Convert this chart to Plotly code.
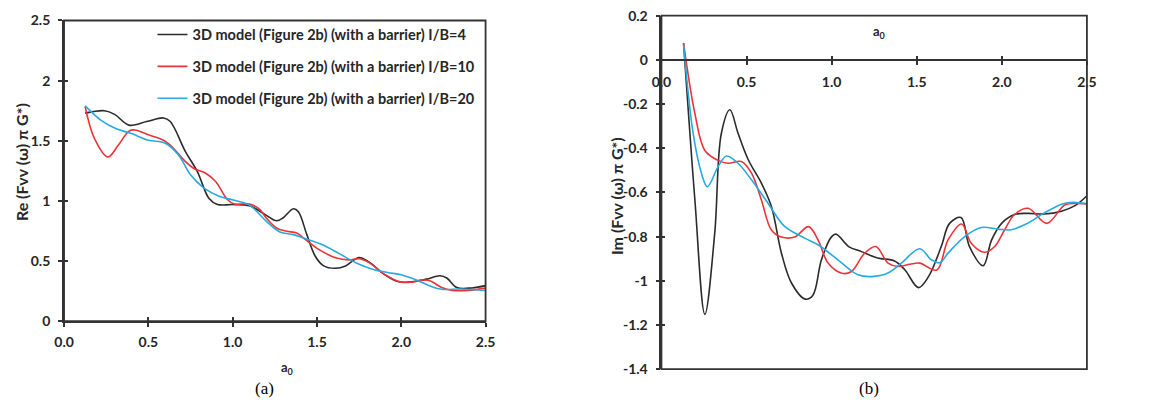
import plotly.graph_objects as go

W, H = 1149, 403

# ---------------- data ----------------
series_names = [
    "3D model (Figure 2b) (with a barrier) I/B=4",
    "3D model (Figure 2b) (with a barrier) I/B=10",
    "3D model (Figure 2b) (with a barrier) I/B=20",
]
series_colors = ["#2b2b2b", "#ee3338", "#27aae1"]

# (a) Real part
re_a_ib4 = [0.125, 0.24, 0.3, 0.385, 0.49, 0.59, 0.63, 0.72, 0.79, 0.86, 0.91, 1.0, 1.1, 1.2, 1.26, 1.3,
            1.36, 1.39, 1.44, 1.49, 1.54, 1.61, 1.67, 1.75, 1.81, 1.9, 1.98, 2.08, 2.15, 2.23, 2.27, 2.33, 2.42, 2.5]
re_v_ib4 = [1.73, 1.75, 1.72, 1.63, 1.66, 1.69, 1.66, 1.41, 1.245, 1.02, 0.97, 0.97, 0.96, 0.88, 0.835, 0.86,
            0.935, 0.91, 0.72, 0.54, 0.46, 0.44, 0.46, 0.53, 0.49, 0.39, 0.33, 0.33, 0.35, 0.378, 0.36, 0.28, 0.277, 0.296]

re_a_ib10 = [0.125, 0.18, 0.26, 0.32, 0.385, 0.42, 0.5, 0.59, 0.64, 0.72, 0.77, 0.84, 0.9, 0.97, 1.01, 1.1,
             1.16, 1.2, 1.26, 1.32, 1.38, 1.43, 1.51, 1.61, 1.69, 1.75, 1.81, 1.9, 2.0, 2.06, 2.12, 2.17,
             2.24, 2.3, 2.4, 2.5]
re_v_ib10 = [1.785, 1.52, 1.365, 1.46, 1.58, 1.59, 1.55, 1.505, 1.45, 1.327, 1.27, 1.23, 1.16, 1.01, 0.975, 0.975,
             0.93, 0.857, 0.775, 0.748, 0.734, 0.68, 0.597, 0.528, 0.51, 0.52, 0.487, 0.39, 0.325, 0.325, 0.342, 0.337,
             0.28, 0.257, 0.257, 0.275]

re_a_ib20 = [0.125, 0.22, 0.31, 0.4, 0.5, 0.6, 0.68, 0.75, 0.83, 0.92, 1.01, 1.1, 1.2, 1.28, 1.36, 1.43,
             1.53, 1.63, 1.73, 1.83, 1.92, 2.0, 2.1, 2.18, 2.24, 2.36, 2.5]
re_v_ib20 = [1.79, 1.67, 1.6, 1.56, 1.505, 1.48, 1.38, 1.217, 1.107, 1.04, 1.005, 0.965, 0.83, 0.742, 0.72, 0.687,
             0.638, 0.564, 0.487, 0.433, 0.405, 0.386, 0.337, 0.288, 0.266, 0.268, 0.255]

# (b) Imaginary part
im_a_ib4 = [0.13, 0.196, 0.255, 0.313, 0.352, 0.402, 0.45, 0.51, 0.587, 0.646, 0.705, 0.764, 0.845, 0.89, 0.94,
            1.0, 1.027, 1.1, 1.175, 1.27, 1.37, 1.43, 1.51, 1.57, 1.644, 1.693, 1.76, 1.81, 1.89, 1.94, 2.0,
            2.075, 2.153, 2.25, 2.35, 2.43, 2.5]
im_v_ib4 = [0.075, -0.63, -1.152, -0.784, -0.332, -0.226, -0.332, -0.452, -0.558, -0.664, -0.875, -1.01, -1.083,
            -1.065, -0.905, -0.8, -0.789, -0.845, -0.868, -0.897, -0.91, -0.95, -1.031, -0.98, -0.845, -0.74, -0.714,
            -0.845, -0.932, -0.815, -0.739, -0.70, -0.695, -0.698, -0.685, -0.66, -0.615]

im_a_ib10 = [0.13, 0.196, 0.255, 0.333, 0.392, 0.47, 0.529, 0.587, 0.646, 0.705, 0.783, 0.864, 0.92, 0.979, 1.06,
             1.116, 1.194, 1.26, 1.331, 1.39, 1.46, 1.518, 1.618, 1.684, 1.764, 1.82, 1.9, 1.958, 2.016, 2.075,
             2.155, 2.264, 2.37, 2.445, 2.5]
im_v_ib10 = [0.075, -0.241, -0.41, -0.455, -0.468, -0.46, -0.513, -0.634, -0.77, -0.802, -0.802, -0.755, -0.815,
             -0.92, -0.966, -0.958, -0.875, -0.845, -0.92, -0.935, -0.925, -0.92, -0.951, -0.815, -0.743, -0.83,
             -0.871, -0.845, -0.77, -0.70, -0.672, -0.74, -0.657, -0.65, -0.652]

im_a_ib20 = [0.13, 0.186, 0.235, 0.27, 0.333, 0.382, 0.45, 0.529, 0.626, 0.724, 0.842, 0.92, 1.037, 1.155, 1.233,
             1.331, 1.41, 1.518, 1.586, 1.636, 1.684, 1.782, 1.88, 1.978, 2.055, 2.153, 2.245, 2.355, 2.42, 2.5]
im_v_ib20 = [0.068, -0.332, -0.513, -0.574, -0.483, -0.435, -0.468, -0.543, -0.649, -0.754, -0.807, -0.837, -0.905,
             -0.973, -0.981, -0.965, -0.92, -0.855, -0.905, -0.918, -0.875, -0.8, -0.759, -0.766, -0.769, -0.739,
             -0.695, -0.652, -0.645, -0.652]

x_ticks = [0.0, 0.5, 1.0, 1.5, 2.0, 2.5]
x_ticktext = ["0.0", "0.5", "1.0", "1.5", "2.0", "2.5"]
re_ticks = [0, 0.5, 1, 1.5, 2, 2.5]
re_ticktext = ["0", "0.5", "1", "1.5", "2", "2.5"]
im_ticks = [0.2, 0, -0.2, -0.4, -0.6, -0.8, -1.0, -1.2, -1.4]
im_ticktext = ["0.2", "0", "-0.2", "-0.4", "-0.6", "-0.8", "-1", "-1.2", "-1.4"]

# ---------------- layout helpers ----------------
def px(x):
    return x / W

def py(y):
    return 1 - y / H

AX = "#333333"
TXT = "#262626"
FONT = "Lato"

xa_dom = [px(55), px(484)]
ya_dom = [py(326), py(12)]
xb_dom = [px(663), px(1096)]
yb_dom = [py(376), py(7)]
xb_pos = yb_dom[0] + (0 - (-1.4)) / (0.2 - (-1.4)) * (yb_dom[1] - yb_dom[0])

fig = go.Figure()

re_sets = [(re_a_ib4, re_v_ib4), (re_a_ib10, re_v_ib10), (re_a_ib20, re_v_ib20)]
im_sets = [(im_a_ib4, im_v_ib4), (im_a_ib10, im_v_ib10), (im_a_ib20, im_v_ib20)]

for i, (xs, ys) in enumerate(re_sets):
    fig.add_trace(go.Scatter(x=xs, y=ys, mode="lines", name=series_names[i],
                             line=dict(color=series_colors[i], width=1.6, shape="spline", smoothing=1.0),
                             xaxis="x", yaxis="y", legendgroup=f"g{i}", showlegend=True))
for i, (xs, ys) in enumerate(im_sets):
    fig.add_trace(go.Scatter(x=xs, y=ys, mode="lines", name=series_names[i],
                             line=dict(color=series_colors[i], width=1.6, shape="spline", smoothing=1.0),
                             xaxis="x2", yaxis="y2", legendgroup=f"g{i}", showlegend=False))

# invisible traces to activate overlay axes used for crossing tick marks
fig.add_trace(go.Scatter(x=[None], y=[None], xaxis="x3", yaxis="y3", showlegend=False, hoverinfo="skip"))
fig.add_trace(go.Scatter(x=[None], y=[None], xaxis="x4", yaxis="y4", showlegend=False, hoverinfo="skip"))

tickfont = dict(family=FONT, size=14, color=TXT, weight="bold")
common = dict(showgrid=False, zeroline=False, linecolor=AX, linewidth=1.8, tickcolor=AX,
              tickwidth=1.5, ticklen=4, ticks="outside", tickfont=tickfont, showline=True)
inside = dict(showgrid=False, zeroline=False, showline=False, ticks="inside", ticklen=4,
              tickcolor=AX, tickwidth=1.5, showticklabels=False)

fig.update_layout(
    width=W, height=H, autosize=False,
    margin=dict(l=0, r=0, t=0, b=0),
    paper_bgcolor="white", plot_bgcolor="white",
    showlegend=True,
    legend=dict(x=px(145), y=py(10), xanchor="left", yanchor="top",
                font=dict(family=FONT, size=14.5, color=TXT, weight="bold"),
                bgcolor="rgba(0,0,0,0)", tracegroupgap=10, itemwidth=30),
    xaxis=dict(domain=xa_dom, range=[0, 2.5], anchor="y", tickvals=x_ticks, ticktext=x_ticktext,
               ticklabelstandoff=3, **common),
    yaxis=dict(domain=ya_dom, range=[0, 2.5], anchor="x", tickvals=re_ticks, ticktext=re_ticktext,
               ticklabelstandoff=5, **common),
    xaxis3=dict(domain=xa_dom, range=[0, 2.5], anchor="y", overlaying="x", tickvals=x_ticks, **inside),
    yaxis3=dict(domain=ya_dom, range=[0, 2.5], anchor="x", overlaying="y", tickvals=re_ticks, **inside),
    xaxis2=dict(domain=xb_dom, range=[0, 2.5], anchor="free", position=xb_pos,
                tickvals=x_ticks, ticktext=x_ticktext, ticklabelstandoff=5, **common),
    yaxis2=dict(domain=yb_dom, range=[-1.4, 0.2], anchor="x2", tickvals=im_ticks, ticktext=im_ticktext,
                ticklabelstandoff=5, **common),
    xaxis4=dict(domain=xb_dom, range=[0, 2.5], anchor="free", position=xb_pos, overlaying="x2",
                tickvals=x_ticks, **inside),
    yaxis4=dict(domain=yb_dom, range=[-1.4, 0.2], anchor="x2", overlaying="y2", tickvals=im_ticks, **inside),
)

# frame boxes
for xr, yr in [("x domain", "y domain"), ("x2 domain", "y2 domain")]:
    fig.add_shape(type="rect", xref=xr, yref=yr, x0=0, x1=1, y0=0, y1=1,
                  line=dict(color=AX, width=1.8), fillcolor="rgba(0,0,0,0)", layer="above")

lab = dict(family=FONT, size=16, color=TXT, weight="bold")
sub = dict(family=FONT, size=13, color=TXT, weight="bold")
annots = [
    dict(text="a<sub>0</sub>", x=px(282), y=py(375), font=sub),
    dict(text="a<sub>0</sub>", x=px(885), y=py(24), font=sub),
    dict(text="Re (Fvv (ω) π G*)", x=px(11), y=py(160), font=lab, textangle=-90),
    dict(text="Im (Fvv (ω) π G*)", x=px(618), y=py(195), font=lab, textangle=-90),
    dict(text="(a)", x=px(259), y=py(396), font=dict(family="Liberation Serif", size=17, color="black")),
    dict(text="(b)", x=px(874), y=py(396), font=dict(family="Liberation Serif", size=17, color="black")),
]
for a in annots:
    fig.add_annotation(xref="paper", yref="paper", showarrow=False, xanchor="center", yanchor="middle", **a)

fig.write_html("out.html")
